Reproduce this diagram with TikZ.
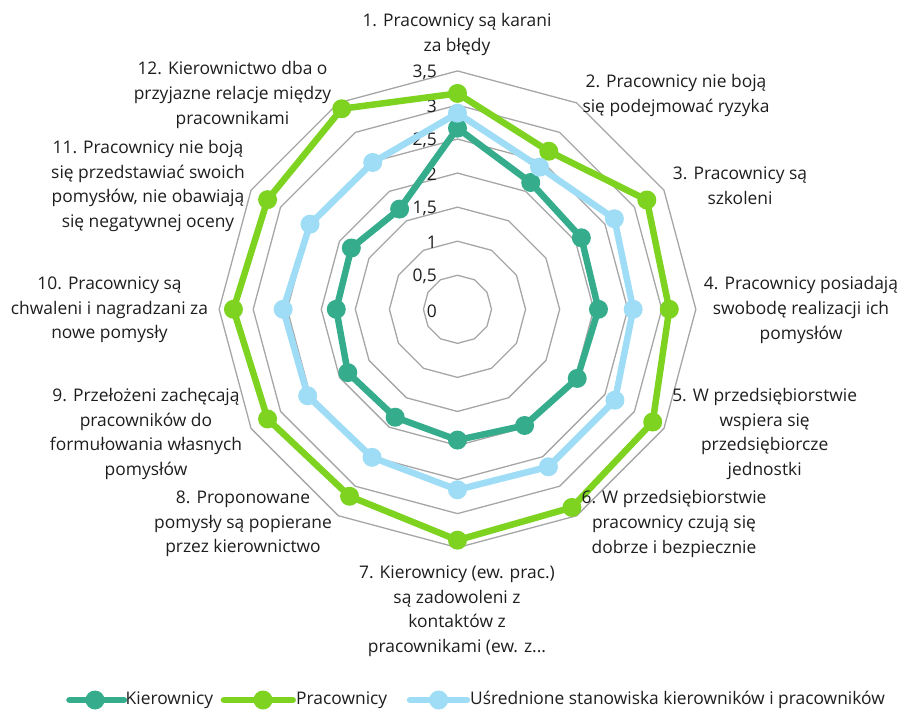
\documentclass[tikz,border=0pt]{standalone}
\usepackage{fontspec}
\setmainfont{Open Sans}
\definecolor{cteal}{HTML}{35AD8C}
\definecolor{cgreen}{HTML}{7ED321}
\definecolor{cblue}{HTML}{9EDDF5}
\definecolor{cgrid}{HTML}{A6A6A6}
\definecolor{ctext}{HTML}{1E1E1E}
\begin{document}
\begin{tikzpicture}[x=1pt,y=1pt,
  font=\fontsize{17.4}{24.6}\selectfont,
  lbl/.style={align=center, text=ctext, inner sep=0pt},
  axlbl/.style={anchor=east, text=ctext, inner sep=0pt},
  gridline/.style={draw=cgrid, line width=1.3pt},
  serie/.style={line width=6.5pt, line join=round, line cap=round},
  dot/.style={circle, inner sep=0pt, minimum size=19pt}]
\useasboundingbox (-457.5,-400.7) rectangle (442.5,309.3);
\def\u{68.1}
% grid
\foreach \k in {1,...,7}{
  \draw[gridline] (90:{\k*\u/2}) \foreach \a in {60,30,...,-240}{ -- (\a:{\k*\u/2})} -- cycle;
}
% axis labels
\foreach \k/\t in {0/0,1/{0,5},2/1,3/{1,5},4/2,5/{2,5},6/3,7/{3,5}}{
  \node[axlbl] (ax\k) at (-20.5,{\k*\u/2-1.5}) {\t};
}
% series data
\def\dteal{2.66,2.15,2.1,2.07,2.03,1.97,1.92,1.83,1.86,1.78,1.8,1.7}
\def\dgreen{3.17,2.68,3.21,3.11,3.31,3.36,3.39,3.17,3.22,3.29,3.22,3.40}
\def\dblue{2.88,2.41,2.66,2.58,2.67,2.67,2.65,2.51,2.54,2.56,2.5,2.49}
\foreach \v [count=\i] in \dteal { \coordinate (t\i) at ({90-30*(\i-1)}:{\v*\u}); }
\foreach \v [count=\i] in \dgreen { \coordinate (g\i) at ({90-30*(\i-1)}:{\v*\u}); }
\foreach \v [count=\i] in \dblue { \coordinate (b\i) at ({90-30*(\i-1)}:{\v*\u}); }
% teal
\draw[serie, cteal] (t1) \foreach \i in {2,...,12}{ -- (t\i)} -- cycle;
\foreach \i in {1,...,12} \node[dot, fill=cteal] (mt\i) at (t\i) {};
% green
\draw[serie, cgreen] (g1) \foreach \i in {2,...,12}{ -- (g\i)} -- cycle;
\foreach \i in {1,...,12} \node[dot, fill=cgreen] (mg\i) at (g\i) {};
% blue
\draw[serie, cblue] (b1) \foreach \i in {2,...,12}{ -- (b\i)} -- cycle;
\foreach \i in {1,...,12} \node[dot, fill=cblue] (mb\i) at (b\i) {};
% category labels
\node[lbl] (l1) at (-0.5,274.8) {1. Pracownicy są karani\\za błędy};
\node[lbl] (l2) at (218.5,213.8) {2. Pracownicy nie boją\\się podejmować ryzyka};
\node[lbl] (l3) at (282.5,123.8) {3. Pracownicy są\\szkoleni};
\node[lbl] (l4) at (343.5,-0.7) {4. Pracownicy posiadają\\swobodę realizacji ich\\pomysłów};
\node[lbl] (l5) at (307.2,-124.7) {5. W przedsiębiorstwie\\wspiera się\\przedsiębiorcze\\jednostki};
\node[lbl] (l6) at (216.5,-214.7) {6. W przedsiębiorstwie\\pracownicy czują się\\dobrze i bezpiecznie};
\node[lbl] (l7) at (-0.5,-301.7) {7. Kierownicy (ew. prac.)\\są zadowoleni z\\kontaktów z\\pracownikami (ew. z...};
\node[lbl] (l8) at (-214.5,-214.7) {8. Proponowane\\pomysły są popierane\\przez kierownictwo};
\node[lbl] (l9) at (-311.5,-124.7) {9. Przełożeni zachęcają\\pracowników do\\formułowania własnych\\pomysłów};
\node[lbl] (l10) at (-348,-0.7) {10. Pracownicy są\\chwaleni i nagradzani za\\nowe pomysły};
\node[lbl] (l11) at (-309.5,123.3) {11. Pracownicy nie boją\\się przedstawiać swoich\\pomysłów, nie obawiają\\się negatywnej oceny};
\node[lbl] (l12) at (-225,214.3) {12. Kierownictwo dba o\\przyjazne relacje między\\pracownikami};
% legend
\coordinate (lt1) at (-388,-390.7); \coordinate (lt2) at (-333.5,-390.7);
\draw[cteal, line width=6.5pt, line cap=round] (lt1) -- (lt2);
\node[dot, fill=cteal] (lmt) at (-362.5,-390.7) {};
\node[anchor=west, text=ctext, inner sep=0pt] (ltt) at (-332,-390.7) {Kierownicy};
\coordinate (lg1) at (-233.5,-390.7); \coordinate (lg2) at (-164.8,-390.7);
\draw[cgreen, line width=6.5pt, line cap=round] (lg1) -- (lg2);
\node[dot, fill=cgreen] (lmg) at (-194.5,-390.7) {};
\node[anchor=west, text=ctext, inner sep=0pt] (lgt) at (-161.5,-390.7) {Pracownicy};
\coordinate (lb1) at (-47.5,-390.7); \coordinate (lb2) at (9.5,-390.7);
\draw[cblue, line width=6.5pt, line cap=round] (lb1) -- (lb2);
\node[dot, fill=cblue] (lmb) at (-18.8,-390.7) {};
\node[anchor=west, text=ctext, inner sep=0pt] (lbt) at (12.5,-390.7) {Uśrednione stanowiska kierowników i pracowników};
\end{tikzpicture}
\end{document}
